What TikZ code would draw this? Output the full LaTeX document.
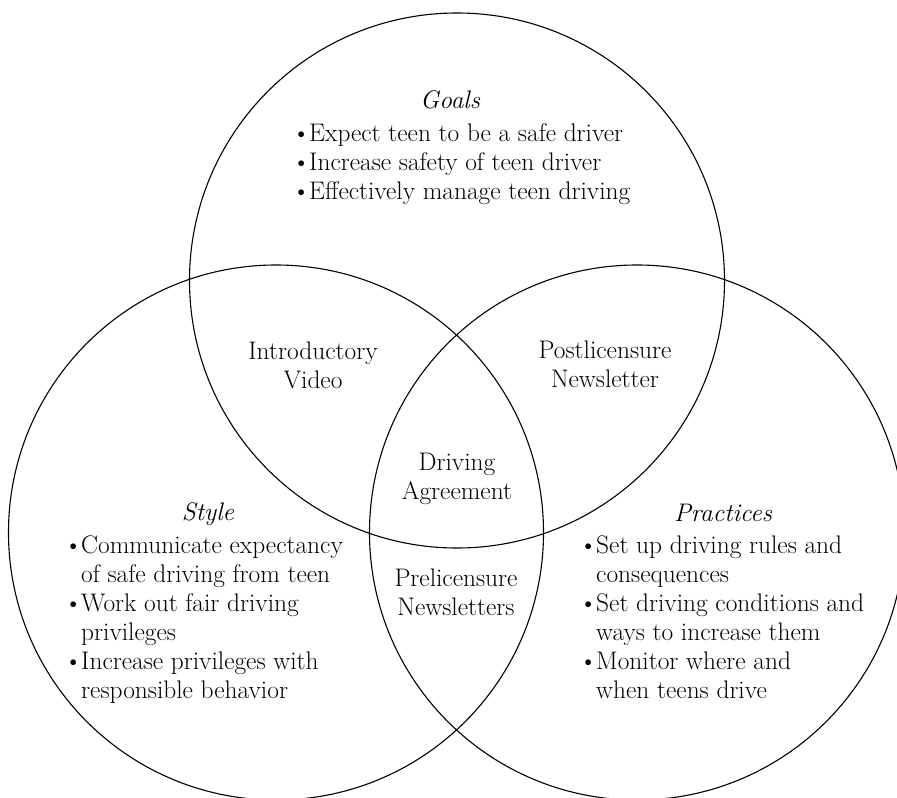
\documentclass[tikz,border=0pt]{standalone}
\newcommand{\bul}{\makebox[17bp][l]{\textbullet}}
\newcommand{\ind}{\hspace*{17bp}}
\begin{document}
\begin{tikzpicture}[x=1bp,y=-1bp,
  every node/.style={inner sep=0pt,font=\fontsize{25.5}{29}\selectfont},
  ring/.style={draw,line width=1.1bp},
  hd/.style={font=\fontsize{25.5}{29}\selectfont\itshape,anchor=base},
  lab/.style={align=center,anchor=base},
  lst/.style={align=left,anchor=base west}]
\useasboundingbox (0,0) rectangle (897,798);
\clip (0,0) rectangle (897,798);
\coordinate (cG) at (457,280.5);
\coordinate (cS) at (276,532.5);
\coordinate (cP) at (637,532.5);
\draw[ring] (cG) circle[radius=267.5bp];
\draw[ring] (cS) circle[radius=267.5bp];
\draw[ring] (cP) circle[radius=267.5bp];
% Goals
\node[hd] (goalsT) at (450,108) {Goals};
\node[lst] (goalsL) at (292,199) {\bul Expect teen to be a safe driver\\
\bul Increase safety of teen driver\\
\bul Effectively manage teen driving};
% Style
\node[hd] (styleT) at (208,520) {Style};
\node[lst] (styleL) at (64,698) {\bul Communicate expectancy\\
\ind of safe driving from teen\\
\bul Work out fair driving\\
\ind privileges\\
\bul Increase privileges with\\
\ind responsible behavior};
% Practices
\node[hd] (pracT) at (723,521) {Practices};
\node[lst] (pracL) at (579,698) {\bul Set up driving rules and\\
\ind consequences\\
\bul Set driving conditions and\\
\ind ways to increase them\\
\bul Monitor where and\\
\ind when teens drive};
% Overlaps
\node[lab] (intro) at (313,388) {Introductory\\Video};
\node[lab] (post) at (605,387) {Postlicensure\\Newsletter};
\node[lab] (agree) at (457,499) {Driving\\Agreement};
\node[lab] (pre) at (456,615) {Prelicensure\\Newsletters};
\end{tikzpicture}
\end{document}
